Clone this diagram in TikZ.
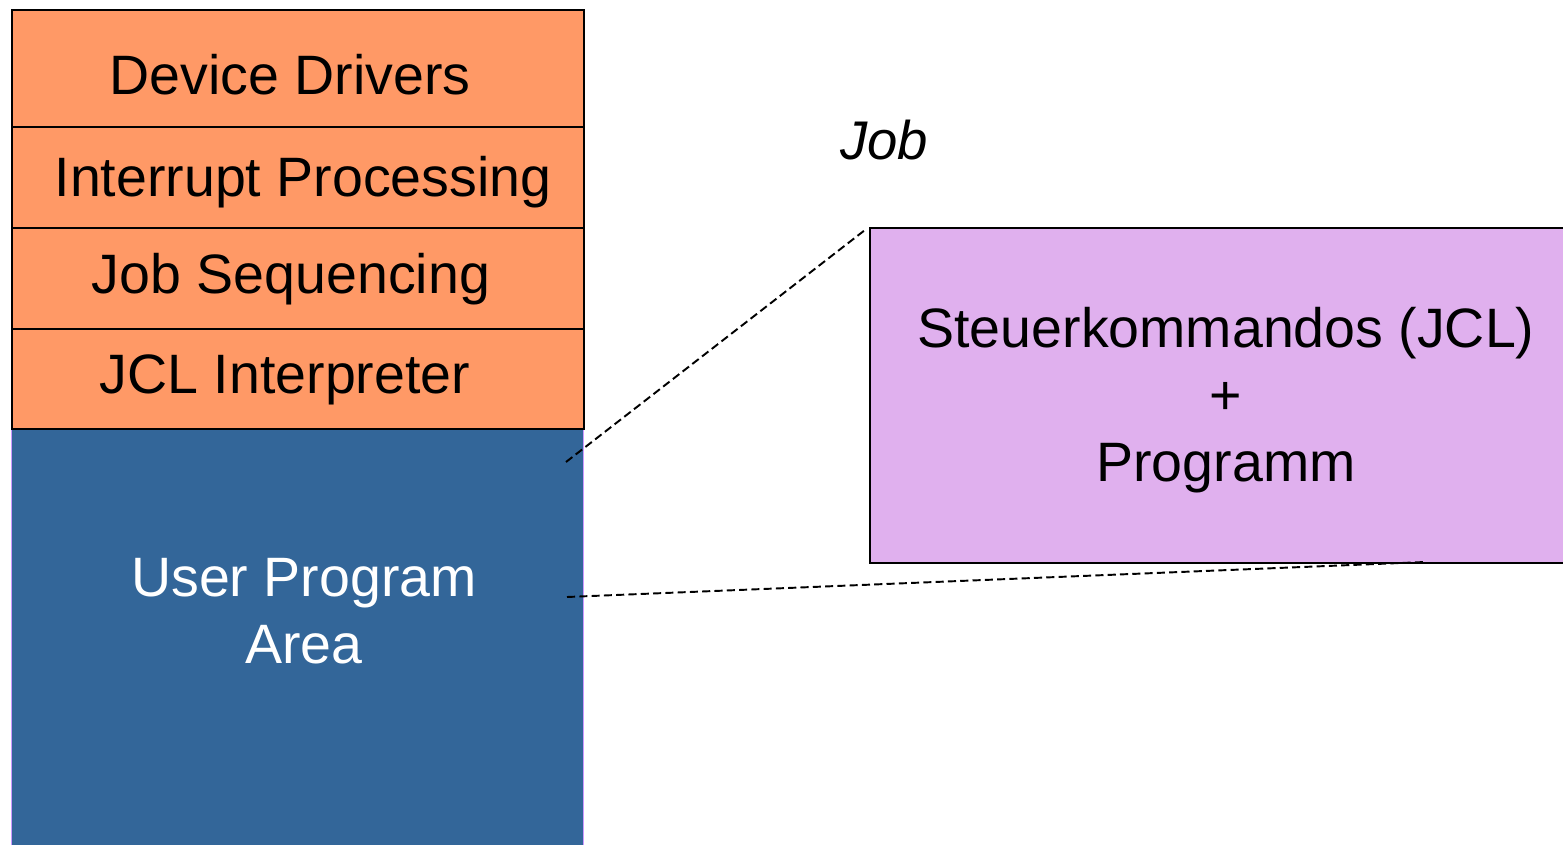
\documentclass[tikz,border=0pt]{standalone}
\usepackage{fontspec}
\setmainfont{Liberation Sans}
\definecolor{layerorange}{RGB}{255,153,102}
\definecolor{userblue}{RGB}{51,102,153}
\definecolor{userrim}{RGB}{204,153,255}
\definecolor{jobviolet}{RGB}{224,176,238}
\begin{document}
\begin{tikzpicture}[x=0.02cm,y=-0.02cm,
  layer/.style={draw=black,line width=1.1pt,fill=layerorange,minimum width=11.44cm,inner sep=0pt,anchor=north west},
  txt/.style={font=\fontsize{31.6}{38.2}\selectfont,align=center,inner sep=0pt},
  zoomline/.style={line width=1.1pt,dash pattern=on 4.6pt off 2.4pt}]
\useasboundingbox (0,0) rectangle (1563,845);
\begin{scope}
\clip (0,0) rectangle (1563,845);
% user area below the system layers
\node[draw=userrim,line width=0.6pt,fill=userblue,minimum width=11.44cm,minimum height=8.6cm,inner sep=0pt,anchor=north west] (upa) at (11,428) {};
% resident monitor layers
\node[layer,minimum height=2.34cm] (dd) at (11,9) {};
\node[layer,minimum height=2.02cm] (ip) at (11,126) {};
\node[layer,minimum height=2.02cm] (js) at (11,227) {};
\node[layer,minimum height=2.0cm] (jcl) at (11,328) {};
% job box, running off to the right
\node[draw=black,line width=1.1pt,fill=jobviolet,minimum width=14.2cm,minimum height=6.7cm,inner sep=0pt,anchor=north west] (job) at (869,227) {};
\end{scope}
\node[txt] (ddt) at (290,75) {Device Drivers};
\node[txt] (ipt) at (303,182) {Interrupt Processing};
\node[txt] (jst) at (291,279) {Job Sequencing};
\node[txt] (jclt) at (285,380) {JCL Interpreter};
\node[txt,text=white] (upat) at (304,611) {User Program\\Area};
\node[txt,font=\fontsize{31}{37}\selectfont\itshape] (jobt) at (884,140) {Job};
\node[txt] (jobc) at (1226,400) {Steuerkommandos (JCL)\\+\\Programm};
% dashed zoom lines from the user area to the job
\coordinate (za) at (566,462);
\coordinate (zb) at (567,597);
\coordinate (jb) at (1425,562);
\draw[zoomline] (za) -- ([shift={(-4,3)}]job.north west);
\draw[zoomline] (zb) -- (jb);
\end{tikzpicture}
\end{document}
